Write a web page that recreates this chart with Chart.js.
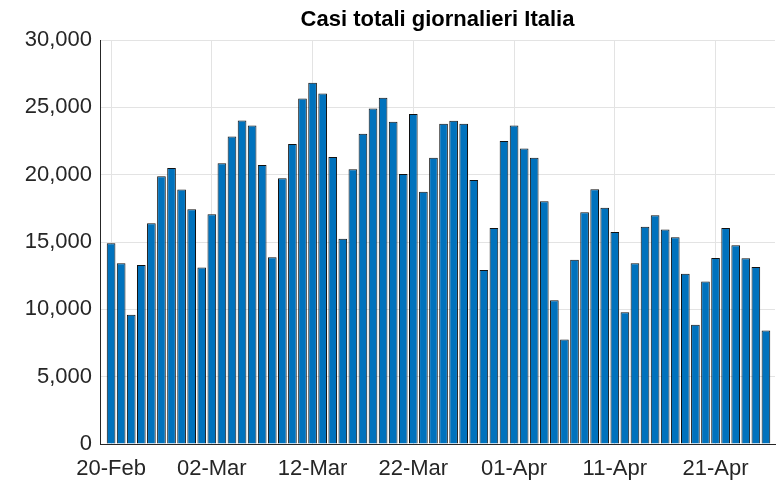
<html>
    <head>
        <title>Casi totali giornalieri Italia</title>
        <style>
            body { margin: 0; background: #fff; }
        </style>
    </head>
    <body>
        <div class="container" style="width: 776px; height: 484px;">
            <canvas id="myChart" width="776" height="484"></canvas>
        </div>
        <script src="https://cdn.jsdelivr.net/npm/chart.js@4"></script>
    </body>
</html>

<script>
    // one bar per day, 20-Feb .. 26-Apr
    var casi = [14910, 13430, 9590, 13300, 16390, 19880, 20490, 18890, 17430, 13100,
                17060, 20840, 22840, 24030, 23660, 20720, 13870, 19730, 22270, 25660,
                26820, 26030, 21310, 15250, 20400, 23040, 24920, 25710, 23930, 20050,
                24500, 18740, 21260, 23780, 24000, 23780, 19600, 12930, 16040, 22500,
                23660, 21950, 21260, 18020, 10680, 7760, 13690, 17210, 18910, 17550,
                15750, 9790, 13430, 16140, 16990, 15920, 15350, 12650, 8850, 12060,
                13820, 16040, 14760, 13800, 13150, 8430];
    var tickDays = [0, 10, 20, 30, 40, 50, 60];
    var tickLabels = ["20-Feb", "02-Mar", "12-Mar", "22-Mar", "01-Apr", "11-Apr", "21-Apr"];
    var yTicks = [0, 5000, 10000, 15000, 20000, 25000, 30000];

    var points = [];
    for (var i = 0; i < casi.length; i++) {
        points.push({x: i, y: casi[i]});
    }

    var font = "'Liberation Sans', Arial, Helvetica, sans-serif";

    var ctx = document.getElementById('myChart').getContext('2d');
    var chart = new Chart(ctx, {
    type: 'bar',
    data: {
        datasets: [{
            label: 'Casi totali',
            data: points,
            backgroundColor: '#0072BD',
            borderColor: '#111111',
            borderWidth: 1,
            categoryPercentage: 1.0,
            barPercentage: 0.86
        }]
    },
    options: {
        responsive: false,
        animation: false,
        layout: { padding: { left: 0, right: 1, top: 0, bottom: 0 } },
        plugins: {
            legend: { display: false },
            tooltip: { enabled: false },
            title: {
                display: true,
                fullSize: false,
                text: 'Casi totali giornalieri Italia',
                color: '#000',
                font: { family: font, size: 22, weight: 'bold' },
                padding: { top: 7, bottom: 6.6 }
            }
        },
        scales: {
            x: {
                type: 'linear',
                offset: false,
                min: -1.1,
                max: 65.9,
                afterBuildTicks: function (scale) {
                    scale.ticks = tickDays.map(function (d) { return {value: d}; });
                },
                afterFit: function (scale) { scale.height = 40; },
                ticks: {
                    color: '#262626',
                    font: { family: font, size: 22 },
                    padding: 12,
                    maxRotation: 0,
                    autoSkip: false,
                    callback: function (value) {
                        var k = tickDays.indexOf(value);
                        return k >= 0 ? tickLabels[k] : '';
                    }
                },
                grid: { color: '#e3e3e3', drawTicks: false, offset: false },
                border: { color: '#262626', width: 1 }
            },
            y: {
                min: 0,
                max: 30000,
                afterBuildTicks: function (scale) {
                    scale.ticks = yTicks.map(function (v) { return {value: v}; });
                },
                afterFit: function (scale) { scale.width = 100; },
                ticks: {
                    color: '#262626',
                    font: { family: font, size: 22 },
                    padding: 8,
                    callback: function (value) { return value.toLocaleString('en-US'); }
                },
                grid: { color: '#e3e3e3', drawTicks: false },
                border: { color: '#262626', width: 1 }
            }
        }
    }
});
</script>
